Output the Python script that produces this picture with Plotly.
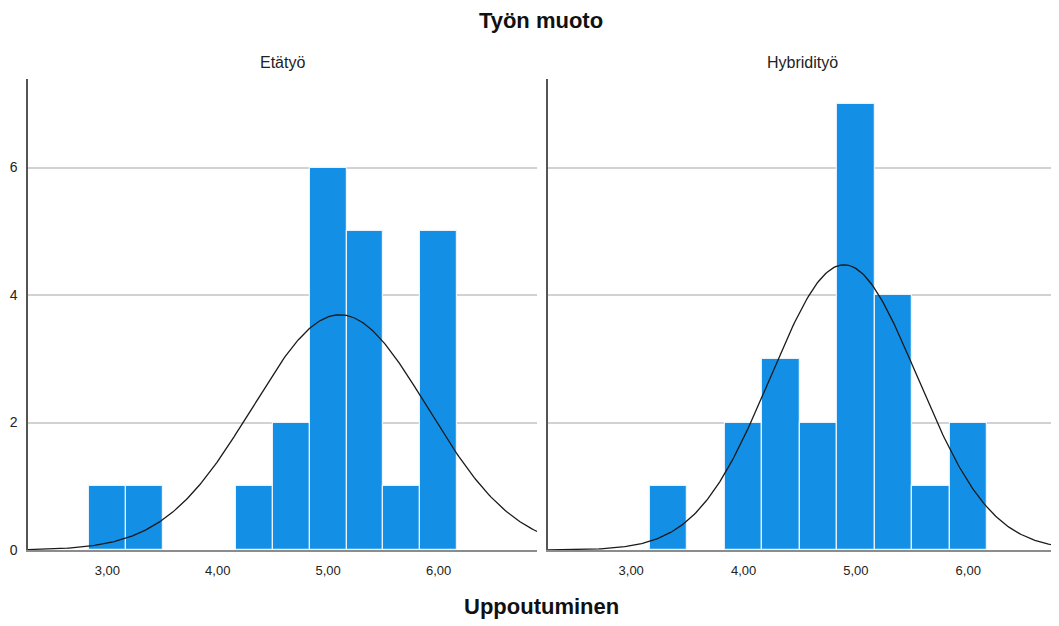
import numpy as np
import plotly.graph_objects as go

# ---- data ----
bin_width = 1/3
etatyo_centers = [3.0, 10/3, 13/3, 14/3, 5.0, 16/3, 17/3, 6.0]
etatyo_counts = [1, 1, 1, 2, 6, 5, 1, 5]
hybrid_centers = [10/3, 4.0, 13/3, 14/3, 5.0, 16/3, 17/3, 6.0]
hybrid_counts = [1, 2, 3, 2, 7, 4, 1, 2]
x_tickvals = [3, 4, 5, 6]
x_ticktext = ["3,00", "4,00", "5,00", "6,00"]
y_tickvals = [0, 2, 4, 6]
panel_titles = ["Etätyö", "Hybridityö"]

BAR = "#1390e6"
FONT = "Liberation Sans, Arial, sans-serif"

def normal_curve(centers, counts, lo, hi):
    c = np.array(centers); n = np.array(counts)
    N = n.sum()
    mu = (c * n).sum() / N
    sd = np.sqrt(((c - mu) ** 2 * n).sum() / (N - 1))
    xs = np.linspace(lo, hi, 300)
    ys = N * bin_width * np.exp(-0.5 * ((xs - mu) / sd) ** 2) / (sd * np.sqrt(2 * np.pi))
    return xs, ys

ranges = [(2.281, 6.892), (2.259, 6.79)]

fig = go.Figure()
for i, (cen, cnt) in enumerate([(etatyo_centers, etatyo_counts), (hybrid_centers, hybrid_counts)]):
    xa = "x" if i == 0 else "x2"
    ya = "y" if i == 0 else "y2"
    fig.add_trace(go.Bar(x=cen, y=cnt, width=bin_width, marker=dict(color=BAR, line=dict(color="#e8f3fc", width=1.2)),
                         xaxis=xa, yaxis=ya, showlegend=False, hoverinfo="skip"))
    xs, ys = normal_curve(cen, cnt, ranges[i][0], ranges[i][1])
    fig.add_trace(go.Scatter(x=xs, y=ys, mode="lines", line=dict(color="#1a1a1a", width=1.3),
                             xaxis=xa, yaxis=ya, showlegend=False, hoverinfo="skip", cliponaxis=True))

common_x = dict(tickvals=x_tickvals, ticktext=x_ticktext, showgrid=False, zeroline=False, automargin=False,
                showline=True, linecolor="#8c8c8c", linewidth=2, ticks="", ticklabelstandoff=7,
                tickfont=dict(family=FONT, size=13, color="#222"))
common_y = dict(range=[0, 7.39], tickvals=y_tickvals, showgrid=True, gridcolor="#d2d2d2", gridwidth=1.5,
                zeroline=False, showline=True, linecolor="#555", linewidth=1.5, ticks="", automargin=False,
                tickfont=dict(family=FONT, size=14, color="#222"))

fig.update_layout(
    width=1059, height=626,
    margin=dict(l=20, r=10, t=71, b=84, autoexpand=False),
    paper_bgcolor="white", plot_bgcolor="white",
    bargap=0,
    xaxis=dict(domain=[0, 0.4947], range=list(ranges[0]), **common_x),
    xaxis2=dict(domain=[0.5053, 1], range=list(ranges[1]), anchor="y2", **common_x),
    yaxis=dict(anchor="x", ticklabelstandoff=6, **common_y),
    yaxis2=dict(anchor="x2", showticklabels=False, **common_y),
    title=dict(text="<b>Työn muoto</b>", x=0.5033, xanchor="center", y=0.981, yanchor="middle",
               font=dict(family=FONT, size=22, color="#111")),
    annotations=[
        dict(text=panel_titles[0], xref="paper", yref="paper", x=0.2475, y=1.0, yshift=17,
             xanchor="center", yanchor="middle", showarrow=False, font=dict(family=FONT, size=16, color="#222")),
        dict(text=panel_titles[1], xref="paper", yref="paper", x=0.7527, y=1.0, yshift=17,
             xanchor="center", yanchor="middle", showarrow=False, font=dict(family=FONT, size=16, color="#222")),
        dict(text="<b>Uppoutuminen</b>", xref="paper", yref="paper", x=0.4995, y=0, yshift=-56,
             xanchor="center", yanchor="middle", showarrow=False, font=dict(family=FONT, size=22, color="#111")),
    ],
)

fig.write_html("out.html")
